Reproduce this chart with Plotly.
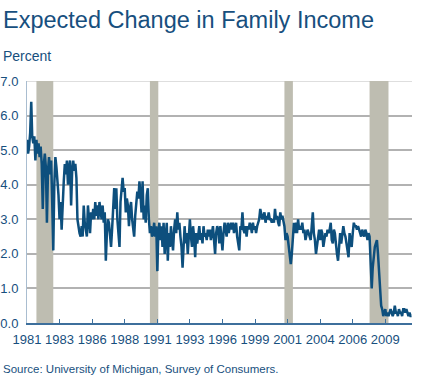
import pandas as pd
import plotly.graph_objects as go

# ---------------- data ----------------
start_month = "1980-10-01"
values = [
    # 1980 Oct-Dec
    5.3, 4.9, 5.1,
    # 1981
    5.5, 6.4, 5.4, 5.2, 5.4, 4.7, 5.3, 4.9, 5.2, 4.8, 5.1, 4.6,
    # 1982
    3.3, 4.6, 4.9, 4.5, 2.9, 4.4, 4.8, 4.3, 4.7, 3.5, 2.1, 4.0,
    # 1983
    4.8, 4.5, 4.2, 3.7, 3.0, 3.5, 2.7, 3.6, 4.1, 4.6, 4.3, 4.7,
    # 1984
    4.0, 4.5, 4.7, 3.4, 4.4, 4.7, 4.4, 4.6, 4.2, 3.0, 2.7, 2.6,
    # 1985
    2.5, 2.8, 2.5, 3.4, 2.9, 2.6, 2.5, 3.4, 3.0, 2.6, 3.2, 3.0,
    # 1986
    3.3, 3.0, 3.5, 3.1, 3.4, 3.0, 3.5, 3.2, 3.0, 3.4, 2.9, 3.2,
    # 1987
    1.8, 2.6, 3.0, 2.9, 2.6, 2.2, 2.7, 3.4, 3.9, 3.3, 3.9, 3.0,
    # 1988
    2.7, 2.2, 3.5, 3.9, 4.2, 3.8, 3.9, 3.2, 3.6, 3.4, 2.8, 3.3,
    # 1989
    3.5, 3.0, 2.7, 2.5, 3.1, 3.5, 3.8, 3.6, 4.1, 3.7, 3.2, 4.1,
    # 1990
    3.0, 3.4, 2.9, 3.7, 3.9, 3.0, 2.6, 2.8, 2.5, 2.6, 2.9, 2.5,
    # 1991
    2.8, 1.5, 2.6, 2.9, 2.4, 2.8, 2.2, 2.9, 2.0, 2.5, 2.9, 1.8,
    # 1992
    2.6, 2.2, 2.8, 2.4, 2.1, 2.7, 3.0, 2.6, 3.2, 2.7, 2.9, 2.5,
    # 1993
    2.2, 1.6, 2.4, 2.8, 2.3, 2.6, 2.0, 2.7, 3.0, 2.5, 2.2, 2.8,
    # 1994
    2.5, 1.9, 2.6, 2.3, 2.5, 2.8, 2.4, 2.6, 2.3, 2.8, 2.5, 2.6,
    # 1995
    2.4, 2.7, 2.5, 2.7, 2.4, 2.6, 2.8, 2.4, 2.0, 2.6, 2.8, 2.7,
    # 1996
    2.3, 2.8, 2.5, 2.1, 2.6, 2.9, 2.7, 2.5, 2.9, 2.6, 2.8, 2.9,
    # 1997
    2.7, 2.9, 2.6, 2.8, 2.9, 2.5, 2.3, 2.1, 2.8, 2.7, 3.2, 2.7,
    # 1998
    2.6, 2.8, 2.5, 2.8, 2.7, 2.9, 2.8, 2.6, 2.9, 2.7, 2.8, 2.6,
    # 1999
    2.8, 2.9, 3.0, 3.3, 3.1, 3.0, 3.1, 3.2, 2.9, 3.1, 3.0, 3.2,
    # 2000
    3.0, 3.0, 2.9, 3.0, 2.9, 3.3, 3.0, 3.1, 2.9, 2.8, 3.2, 3.0,
    # 2001
    3.1, 2.9, 2.8, 2.4, 2.6, 2.5, 2.2, 1.9, 1.7, 2.0, 2.7, 2.9,
    # 2002
    2.6, 2.9, 2.6, 3.0, 2.7, 2.8, 2.7, 2.9, 2.6, 2.7, 2.4, 2.6,
    # 2003
    2.7, 2.6, 2.5, 2.4, 2.8, 3.2, 2.6, 2.4, 2.0, 2.3, 2.6, 2.7,
    # 2004
    2.4, 2.7, 2.6, 2.2, 2.4, 2.6, 2.5, 2.7, 2.6, 2.7, 2.9, 2.4,
    # 2005
    2.3, 2.7, 2.6, 2.2, 2.0, 1.8, 2.4, 2.6, 2.3, 2.5, 2.8, 2.6,
    # 2006
    2.5, 2.3, 2.1, 1.9, 2.6, 2.4, 2.2, 2.6, 2.9, 2.8, 2.8, 2.7,
    # 2007
    2.8, 2.7, 2.6, 2.5, 2.7, 2.6, 2.5, 2.7, 2.6, 2.4, 2.6, 2.5,
    # 2008
    1.9, 1.0, 1.6, 2.0, 2.2, 2.3, 2.4, 2.0, 1.5, 0.9, 0.5, 0.4,
    # 2009
    0.2, 0.3, 0.4, 0.2, 0.3, 0.2, 0.3, 0.4, 0.3, 0.2, 0.3, 0.5,
    # 2010
    0.3, 0.3, 0.2, 0.4, 0.3, 0.3, 0.2, 0.4, 0.4, 0.3, 0.4, 0.3,
    # 2011 Jan-Apr
    0.2, 0.3, 0.2, 0.2,
]
dates = pd.date_range(start_month, periods=len(values), freq="MS")

recession_starts = ["1981-07-01", "1990-07-01", "2001-03-01", "2007-12-01"]
recession_ends = ["1982-11-01", "1991-03-01", "2001-11-01", "2009-06-01"]

tick_labels = ["1981", "1983", "1986", "1988", "1991", "1993",
               "1996", "1999", "2001", "2004", "2006", "2009"]
tick_dates = pd.date_range(start_month, periods=len(tick_labels), freq="31MS")

title_text = "Expected Change in Family Income"
unit_text = "Percent"
source_text = "Source: University of Michigan, Survey of Consumers."

# ---------------- style ----------------
FONT = "Liberation Sans, Arial, sans-serif"
BLUE_TEXT = "#174f7e"
LINE_COLOR = "#0d4f7d"
BAR_COLOR = "#bebdb1"

fig = go.Figure()
fig.add_trace(go.Scatter(x=dates, y=values, mode="lines",
                         line=dict(color=LINE_COLOR, width=2.5),
                         showlegend=False, hoverinfo="x+y"))

shapes = []
for s, e in zip(recession_starts, recession_ends):
    shapes.append(dict(type="rect", xref="x", yref="y", x0=s, x1=e, y0=0, y1=7,
                       fillcolor=BAR_COLOR, line=dict(width=0), layer="between"))
# lighter top line at 7.0
shapes.append(dict(type="line", xref="paper", yref="y", x0=0, x1=1, y0=7, y1=7,
                   line=dict(color="#dedede", width=2), layer="below"))

W, H = 422, 382
ML, MR, MT, MB = 27, 10, 81, 59
pw, ph = W - ML - MR, H - MT - MB

def px_x(px):
    return (px - ML) / pw

def px_y(py):
    return (H - MB - py) / ph

annotations = [
    dict(text=title_text, xref="paper", yref="paper", x=px_x(1), y=px_y(20),
         xanchor="left", yanchor="middle", showarrow=False,
         font=dict(family=FONT, size=23.5, color=BLUE_TEXT)),
    dict(text=unit_text, xref="paper", yref="paper", x=px_x(1), y=px_y(56),
         xanchor="left", yanchor="middle", showarrow=False,
         font=dict(family=FONT, size=14, color=BLUE_TEXT)),
    dict(text=source_text, xref="paper", yref="paper", x=px_x(1), y=px_y(369),
         xanchor="left", yanchor="middle", showarrow=False,
         font=dict(family=FONT, size=11.5, color=BLUE_TEXT)),
]

fig.update_layout(
    width=W, height=H,
    margin=dict(l=ML, r=MR, t=MT, b=MB, pad=0, autoexpand=False),
    paper_bgcolor="white", plot_bgcolor="white",
    shapes=shapes, annotations=annotations,
    xaxis=dict(range=[dates[0], dates[-1] + pd.Timedelta(days=12)],
               tickvals=tick_dates, ticktext=tick_labels, tickangle=0,
               ticks="inside", ticklen=4, tickwidth=1, tickcolor="#3d6f9c",
               showline=True, linecolor="#3d6f9c", linewidth=1.5,
               showgrid=False, zeroline=False, automargin=False,
               ticklabelstandoff=4,
               tickfont=dict(family=FONT, size=13, color=BLUE_TEXT)),
    yaxis=dict(range=[0, 7], dtick=1, tickformat=".1f",
               showline=True, linecolor="#a9bdd0", linewidth=1,
               showgrid=True, gridcolor="#b2b2b2", gridwidth=1.5,
               zeroline=False, ticks="", ticklabelstandoff=5, automargin=False,
               tickfont=dict(family=FONT, size=13, color=BLUE_TEXT)),
)

fig.write_html("out.html", config={"displayModeBar": False},
               post_script="document.body.style.margin='0';")
